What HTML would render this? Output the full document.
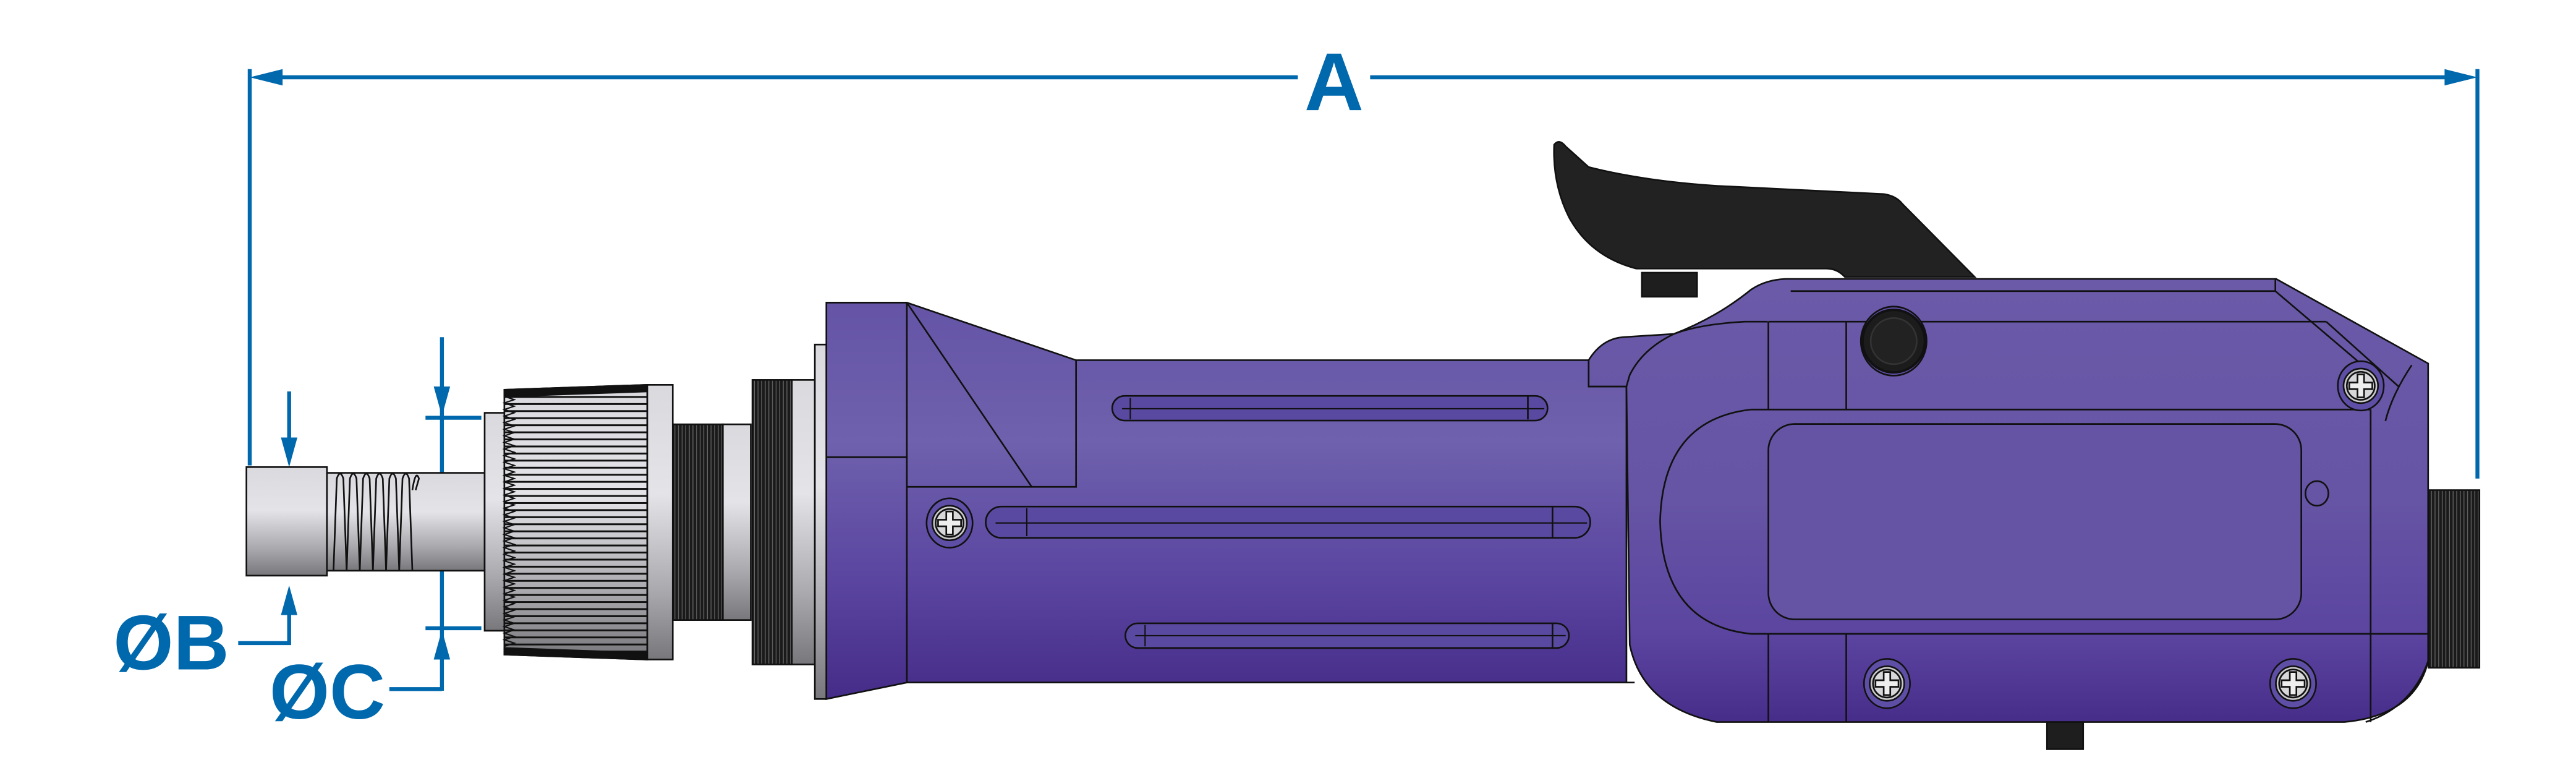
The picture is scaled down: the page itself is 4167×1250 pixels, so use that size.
<!DOCTYPE html>
<html><head><meta charset="utf-8"><style>html,body{margin:0;padding:0;background:#fff}svg{display:block}</style></head>
<body>
<svg width="4167" height="1250" viewBox="0 0 1568 470" preserveAspectRatio="none" xmlns="http://www.w3.org/2000/svg">
<defs>
<linearGradient id="g" x1="0" y1="0" x2="0" y2="1">
<stop offset="0" stop-color="#d9d9de"/><stop offset="0.4" stop-color="#e4e4e8"/><stop offset="0.75" stop-color="#a9a9ae"/><stop offset="1" stop-color="#78787c"/></linearGradient>
<linearGradient id="p" x1="0" y1="0" x2="0" y2="1">
<stop offset="0" stop-color="#6554a6"/><stop offset="0.35" stop-color="#6f61ad"/><stop offset="0.7" stop-color="#5a45a0"/><stop offset="1" stop-color="#452c88"/></linearGradient>
<linearGradient id="ph" x1="0" y1="0" x2="0" y2="1">
<stop offset="0" stop-color="#6a5aa8"/><stop offset="0.5" stop-color="#6654a4"/><stop offset="0.8" stop-color="#5b45a0"/><stop offset="1" stop-color="#472d8a"/></linearGradient>
<pattern id="kn" x="0" y="0" width="10" height="4.3" patternUnits="userSpaceOnUse"><rect width="10" height="4.3" fill="none"/><line x1="0" y1="0.5" x2="10" y2="0.5" stroke="#111" stroke-width="1.2"/></pattern>
<pattern id="th" x="0" y="0" width="2.2" height="10" patternUnits="userSpaceOnUse"><rect width="2.2" height="10" fill="#1a1a1a"/><line x1="1.6" y1="0" x2="1.6" y2="10" stroke="#666" stroke-width="0.5"/></pattern>
</defs>
<g stroke="#0068ad" fill="#0068ad">
<line x1="152" y1="42" x2="152" y2="283" stroke-width="2.4"/>
<line x1="1508" y1="42" x2="1508" y2="291" stroke-width="2.4"/>
<line x1="165" y1="47" x2="790" y2="47" stroke-width="2.4"/>
<line x1="834" y1="47" x2="1495" y2="47" stroke-width="2.4"/>
<polygon points="152,47 172,42 172,52" stroke="none"/>
<polygon points="1508,47 1488,42 1488,52" stroke="none"/>
<line x1="176" y1="238" x2="176" y2="270" stroke-width="2.4"/>
<polygon points="176,284 171,266 181,266" stroke="none"/>
<polyline points="176,370 176,391 145,391" fill="none" stroke-width="2.4"/>
<polygon points="176,356 171,374 181,374" stroke="none"/>
<line x1="269" y1="205" x2="269" y2="420" stroke-width="2.4"/>
<polygon points="269,253 264,235 274,235" stroke="none"/>
<polygon points="269,383 264,401 274,401" stroke="none"/>
<line x1="259" y1="254" x2="293" y2="254" stroke-width="2.4"/>
<line x1="259" y1="382" x2="293" y2="382" stroke-width="2.4"/>
<polyline points="269,419 237,419" fill="none" stroke-width="2.4"/>
</g>
<g font-family="Liberation Sans, sans-serif" font-weight="bold" fill="#0068ad">
<text x="812" y="67" font-size="50" text-anchor="middle">A</text>
<text x="69" y="407" font-size="47">ØB</text>
<text x="164" y="437" font-size="47">ØC</text>
</g>
<g stroke="#111" stroke-width="1">
<rect x="150" y="284" width="49" height="66" fill="url(#g)"/>
<rect x="199" y="287.5" width="96" height="59.5" fill="url(#g)"/>
<g fill="none" stroke-width="1">
<path d="M203,347 L205,291 Q207,285 209,291 L211,347"/><path d="M211,347 L213,291 Q215,285 217,291 L219,347"/>
<path d="M219,347 L221,291 Q223,285 225,291 L227,347"/><path d="M227,347 L229,291 Q231,285 233,291 L235,347"/>
<path d="M235,347 L237,291 Q239,285 241,291 L243,347"/><path d="M243,347 L245,291 Q247,285 249,291 L251,347"/>
<path d="M251,298 Q253,285 255,291 L253,298"/>
</g>
<rect x="295" y="251" width="12" height="132.5" fill="url(#g)"/>
<polygon points="307,237 394,234 394,401 307,398" fill="url(#g)"/>
<polygon points="307,237 394,234 394,401 307,398" fill="url(#kn)" stroke="none"/>
<polygon points="307,237 394,234 394,238 307,241" fill="#111"/>
<polygon points="307,394 394,397 394,401 307,398" fill="#111"/>
<polyline points="307,241 313,243 307,245 313,247 307,249 313,251 307,253 313,255 307,257 313,259 307,261 313,263 307,265 313,267 307,269 313,271 307,273 313,275 307,277 313,279 307,281 313,283 307,285 313,287 307,289 313,291 307,293 313,295 307,297 313,299 307,301 313,303 307,305 313,307 307,309 313,311 307,313 313,315 307,317 313,319 307,321 313,323 307,325 313,327 307,329 313,331 307,333 313,335 307,337 313,339 307,341 313,343 307,345 313,347 307,349 313,351 307,353 313,355 307,357 313,359 307,361 313,363 307,365 313,367 307,369 313,371 307,373 313,375 307,377 313,379 307,381 313,383 307,385 313,387 307,389 313,391 307,393" fill="none" stroke-width="0.8"/>
<rect x="394" y="234" width="15.5" height="167" fill="url(#g)"/>
<rect x="410" y="258" width="30" height="119" fill="url(#th)"/>
<rect x="440" y="258" width="17" height="119" fill="url(#g)"/>
<rect x="458" y="231" width="24" height="173" fill="url(#th)"/>
<rect x="482" y="231" width="14" height="173" fill="url(#g)"/>
<rect x="496" y="209.5" width="7" height="215.5" fill="url(#g)"/>
<!-- body front -->
<polygon points="503,184 552,184 655,219 967,219 967,235 990,235 990,415 552,415 503,425" fill="url(#p)"/>
<line x1="552" y1="184" x2="552" y2="415"/>
<polyline points="552,184 628,296 655,296 655,219" fill="none"/>
<line x1="503" y1="278" x2="552" y2="278"/>
<line x1="552" y1="296" x2="628" y2="296"/>
<line x1="552" y1="415" x2="995" y2="415"/>
<g fill="#5a49a0">
<rect x="677" y="240.7" width="265" height="15" rx="7.5"/>
<rect x="600" y="308" width="368" height="19" rx="9.5"/>
<rect x="685" y="379" width="270" height="15" rx="7.5"/>
</g>
<g fill="none" stroke-width="0.8">
<path d="M683,248.5 H940"/><line x1="688" y1="242" x2="688" y2="255"/>
<path d="M606,318 H966"/><line x1="625" y1="309" x2="625" y2="326"/>
<path d="M691,386.5 H953"/><line x1="697" y1="380" x2="697" y2="393"/>
</g>
<line x1="930" y1="241" x2="930" y2="255"/><line x1="945" y1="308" x2="945" y2="327"/><line x1="945" y1="379" x2="945" y2="394"/>
<!-- rear housing -->
<path d="M967,219 Q975,206 988,205 L1019,203 Q1045,193 1066,176 Q1075,170 1087,169.6 L1385.5,169.6 L1478,221 L1478,402 Q1470,435 1427,439 L1045,439 Q1000,430 992,392 L990,235 L967,235 Z" fill="url(#ph)"/>
<line x1="1090" y1="177" x2="1385" y2="177"/>
<line x1="1385" y1="170" x2="1385" y2="177"/>
<polyline points="1385,177 1438,222" fill="none"/>
<line x1="1076.4" y1="195.6" x2="1138" y2="195.6"/>
<line x1="1167" y1="195.6" x2="1416" y2="195.6"/>
<line x1="1416" y1="195.6" x2="1460" y2="235"/>
<path d="M1076,195.6 L1062,195.6 Q1035,197 1019,203 Q1000,212 992,228 L990,235" fill="none"/>
<line x1="1076.4" y1="195.6" x2="1076.4" y2="249"/><line x1="1123.8" y1="195.6" x2="1123.8" y2="249"/>
<line x1="1076.4" y1="385.4" x2="1076.4" y2="439"/><line x1="1123.8" y1="385.4" x2="1123.8" y2="439"/>
<path d="M1066,249 L1443,249 M1443,249 L1443,439 M1066,385.4 L1478,385.4" fill="none"/>
<path d="M1066,249 Q1012,255 1010.5,317 Q1012,380 1066,385.4" fill="none"/>
<rect x="1076.4" y="257.8" width="324.4" height="118.8" rx="16" fill="#6553a4"/>
<ellipse cx="1410.3" cy="300" rx="7" ry="7.5" fill="none"/>
<path d="M1468,222 Q1456,240 1452,256" fill="none"/>
<path d="M1478,402 Q1468,430 1440,439" fill="none"/>
<ellipse cx="1152.7" cy="207.4" rx="20" ry="21" fill="#5f4ea6"/>
<ellipse cx="1152.7" cy="207.4" rx="19" ry="19" fill="#1c1c1c" stroke-width="1.5"/>
<ellipse cx="1152.7" cy="207.4" rx="14" ry="14" fill="#222" stroke="#333"/>
<!-- trigger -->
<path d="M946,88 Q949,84 953,89 L967,101.6 Q1000,110 1045,113 L1146.5,118 Q1154,119 1158,124 L1202,168.4 L1123,168.4 Q1118,163 1111,163.3 L996,163.3 Q968,156 955,132 Q945,112 946,88 Z" fill="#222"/>
<rect x="999.4" y="165.8" width="33.6" height="14.6" fill="#1e1e1e"/>
<rect x="1478.3" y="298" width="30.9" height="108" fill="url(#th)"/>
<rect x="1246" y="439" width="22" height="16.5" fill="#1e1e1e"/>
</g>
<!-- screws -->
<g stroke="#111" stroke-width="1">
<g transform="translate(578,318)"><ellipse rx="14" ry="15" fill="#5f4ea6"/><circle r="10.5" fill="#c9c9cc"/><circle r="8.5" fill="#d7d7da"/><path d="M-2,-7 h4 v5 h5 v4 h-5 v5 h-4 v-5 h-5 v-4 h5z" fill="#eee"/></g>
<g transform="translate(1437,234.6)"><ellipse rx="14" ry="15" fill="#5f4ea6"/><circle r="10.5" fill="#c9c9cc"/><circle r="8.5" fill="#d7d7da"/><path d="M-2,-7 h4 v5 h5 v4 h-5 v5 h-4 v-5 h-5 v-4 h5z" fill="#eee"/></g>
<g transform="translate(1148.6,415.6)"><ellipse rx="14" ry="15" fill="#5f4ea6"/><circle r="10.5" fill="#c9c9cc"/><circle r="8.5" fill="#d7d7da"/><path d="M-2,-7 h4 v5 h5 v4 h-5 v5 h-4 v-5 h-5 v-4 h5z" fill="#eee"/></g>
<g transform="translate(1395.8,415.6)"><ellipse rx="14" ry="15" fill="#5f4ea6"/><circle r="10.5" fill="#c9c9cc"/><circle r="8.5" fill="#d7d7da"/><path d="M-2,-7 h4 v5 h5 v4 h-5 v5 h-4 v-5 h-5 v-4 h5z" fill="#eee"/></g>
</g>
</svg>
</body></html>
